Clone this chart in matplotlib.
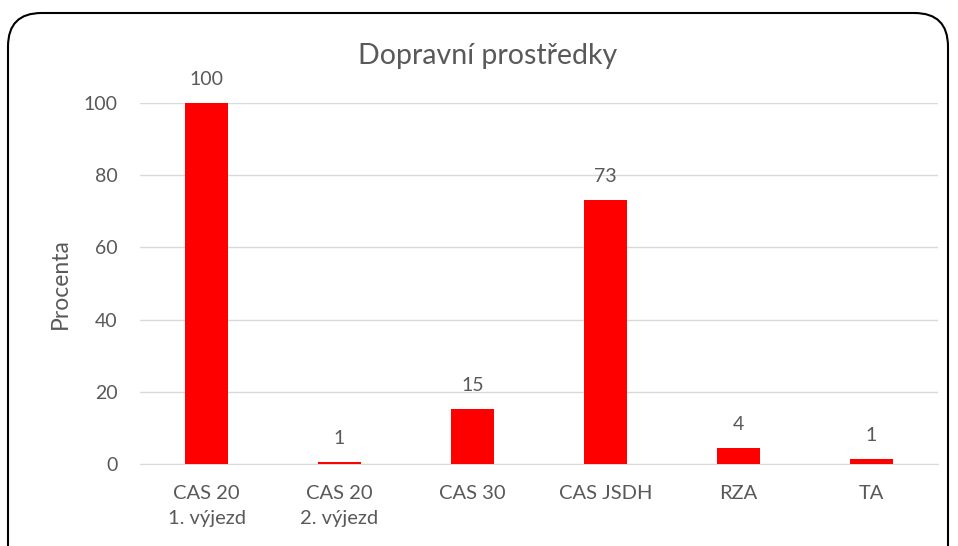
import matplotlib
matplotlib.use("Agg")
import matplotlib.pyplot as plt
from matplotlib.patches import FancyBboxPatch

categories = ["CAS 20\n1. výjezd", "CAS 20\n2. výjezd", "CAS 30", "CAS JSDH", "RZA", "TA"]
values = [100, 0.6, 15.2, 73, 4.3, 1.4]
yticks = [0, 20, 40, 60, 80, 100]

TXT = "#595959"
plt.rcParams["font.family"] = ["Lato", "DejaVu Sans"]

fig = plt.figure(figsize=(9.58, 5.46), dpi=100)
ax = fig.add_axes([140 / 958, 1 - 464 / 546, 798 / 958, 361 / 546])

x = range(len(categories))
ax.bar(x, values, width=0.32, color="#ff0000", zorder=3)
for xi, v in zip(x, values):
    ax.annotate(f"{round(v):d}", (xi, v), xytext=(0, 11), textcoords="offset points",
                ha="center", va="bottom", fontsize=14, color=TXT)

ax.set_xlim(-0.5, len(categories) - 0.5)
ax.set_ylim(0, 100)
ax.set_yticks(yticks)
ax.set_xticks(list(x))
ax.set_xticklabels(categories, fontsize=14.5, color=TXT, linespacing=1.6)
ax.tick_params(axis="y", labelsize=14, labelcolor=TXT, length=0, pad=16)
ax.tick_params(axis="x", length=0, pad=15)
ax.grid(axis="y", color="#d9d9d9", lw=1, zorder=0)
for s in ["top", "right", "left"]:
    ax.spines[s].set_visible(False)
ax.spines["bottom"].set_color("#d9d9d9")
ax.set_ylabel("Procenta", fontsize=16.5, color=TXT, labelpad=9)

fig.text(488 / 958, 1 - 56 / 546, "Dopravní prostředky", ha="center", va="center",
         fontsize=20.5, color=TXT)

# rounded outer frame, clipped at the bottom edge of the image
frame = FancyBboxPatch((8 / 958, -0.2), 940 / 958, 1.2 - 13 / 546,
                       boxstyle="round,pad=0,rounding_size=0.035",
                       transform=fig.transFigure, fill=False, ec="black", lw=1.5,
                       mutation_aspect=958 / 546)
fig.patches.append(frame)

fig.savefig("out.png", dpi=100)
